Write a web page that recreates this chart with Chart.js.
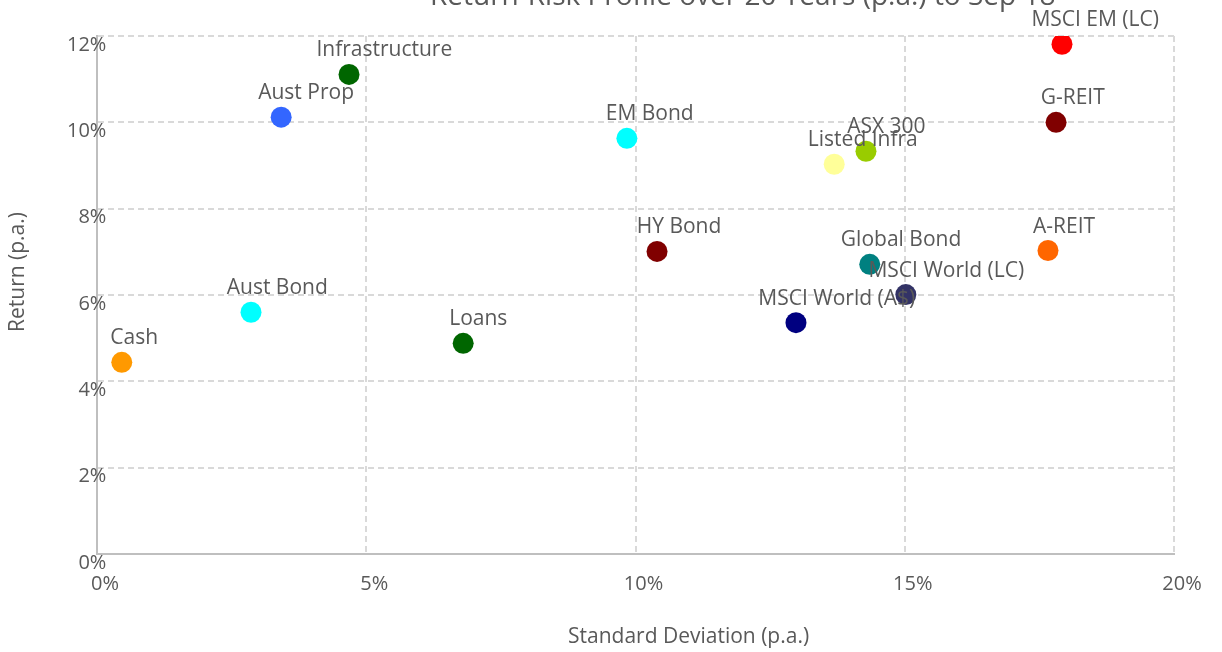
<!DOCTYPE html>
<html>
<head>
<meta charset="utf-8">
<script src="https://cdn.jsdelivr.net/npm/chart.js@4"></script>
<style>
  html, body { margin: 0; padding: 0; background: #fff; }
  #wrap { width: 1222px; height: 652px; }
</style>
</head>
<body>
<div id="wrap"><canvas id="riskChart"></canvas></div>
<script>
// data
const assetNames = ['Cash', 'Aust Bond', 'Aust Prop', 'Infrastructure', 'Loans', 'EM Bond', 'HY Bond',
    'MSCI World (A$)', 'Listed Infra', 'ASX 300', 'Global Bond', 'MSCI World (LC)', 'A-REIT', 'G-REIT', 'MSCI EM (LC)'];
const stdDev = [0.46, 2.86, 3.42, 4.68, 6.80, 9.84, 10.40, 12.98, 13.69, 14.28, 14.35, 15.02, 17.66, 17.81, 17.92];
const annReturn = [4.44, 5.60, 10.12, 11.11, 4.88, 9.63, 7.01, 5.36, 9.03, 9.33, 6.71, 6.01, 7.03, 10.00, 11.81];
const pointColors = ['#FF9900', '#00FFFF', '#3366FF', '#006600', '#006600', '#00FFFF', '#800000',
    '#000080', '#FFFF99', '#99CC00', '#008080', '#333366', '#FF6600', '#800000', '#FF0000'];
const xTicks = [0, 5, 10, 15, 20];
const yTicks = [0, 2, 4, 6, 8, 10, 12];

const chartTitle = 'Return-Risk Profile over 20 Years (p.a.) to Sep 18';
const xTitle = 'Standard Deviation (p.a.)';
const yTitle = 'Return (p.a.)';

const FONT = '"Open Sans", sans-serif';
const TEXT = '#595959';

// labels + titles are drawn by hand (no datalabels plugin offline)
const labelPlugin = {
    id: 'pointLabels',
    afterDatasetsDraw(chart) {
        const ctx = chart.ctx;
        const meta = chart.getDatasetMeta(0);
        ctx.save();
        ctx.font = '21px ' + FONT;
        ctx.fillStyle = TEXT;
        ctx.textAlign = 'left';
        ctx.textBaseline = 'middle';
        meta.data.forEach((pt, i) => {
            const w = ctx.measureText(assetNames[i]).width;
            // excel-ish placement: label sits a bit right of centre
            ctx.fillText(assetNames[i], pt.x - 0.24 * w, pt.y - 24);
        });
        ctx.restore();
    },
    afterDraw(chart) {
        const ctx = chart.ctx;
        const area = chart.chartArea;
        ctx.save();
        ctx.fillStyle = TEXT;
        ctx.textAlign = 'left';
        ctx.textBaseline = 'alphabetic';

        // title, mostly off the top edge like the original
        ctx.font = '28px ' + FONT;
        ctx.fillText(chartTitle, 430, 5);

        // x axis title
        ctx.font = '21px ' + FONT;
        ctx.textBaseline = 'middle';
        let w = ctx.measureText(xTitle).width;
        ctx.fillText(xTitle, (area.left + area.right) / 2 - 0.28 * w, 637);

        // y axis title
        w = ctx.measureText(yTitle).width;
        ctx.translate(18, 272);
        ctx.rotate(-Math.PI / 2);
        ctx.textAlign = 'center';
        ctx.fillText(yTitle, 0, 0);
        ctx.restore();
    }
};

new Chart(document.getElementById('riskChart'), {
    type: 'scatter',
    data: {
        datasets: [{
            data: stdDev.map((x, i) => ({ x: x, y: annReturn[i] })),
            pointBackgroundColor: pointColors,
            pointBorderWidth: 0,
            pointRadius: 10.5,
            pointHoverRadius: 10.5
        }]
    },
    options: {
        responsive: true,
        maintainAspectRatio: false,
        animation: false,
        layout: { padding: { top: 36, right: 48, left: 0, bottom: 0 } },
        plugins: {
            legend: { display: false },
            tooltip: { enabled: false }
        },
        scales: {
            x: {
                type: 'linear',
                min: 0, max: 20,
                afterBuildTicks: s => { s.ticks = xTicks.map(v => ({ value: v })); },
                afterFit: s => { s.height = 98; },
                ticks: {
                    callback: v => v + '%',
                    color: TEXT,
                    font: { family: FONT, size: 20 },
                    padding: 18,
                    labelOffset: 8,
                    maxRotation: 0
                },
                grid: { color: '#D9D9D9', lineWidth: 2, drawTicks: false },
                border: { display: true, color: '#BFBFBF', width: 2, dash: [6, 4] }
            },
            y: {
                type: 'linear',
                min: 0, max: 12,
                afterBuildTicks: s => { s.ticks = yTicks.map(v => ({ value: v })); },
                afterFit: s => { s.width = 97; },
                ticks: {
                    callback: v => v + '%',
                    color: TEXT,
                    font: { family: FONT, size: 20 },
                    // mirror so the labels are not clipped where they cross the axis line
                    mirror: true,
                    crossAlign: 'far',
                    padding: -30,
                    labelOffset: 9
                },
                grid: { color: '#D9D9D9', lineWidth: 2, drawTicks: false },
                border: { display: true, color: '#BFBFBF', width: 2, dash: [6, 4] }
            }
        }
    },
    plugins: [labelPlugin]
});
</script>
</body>
</html>
